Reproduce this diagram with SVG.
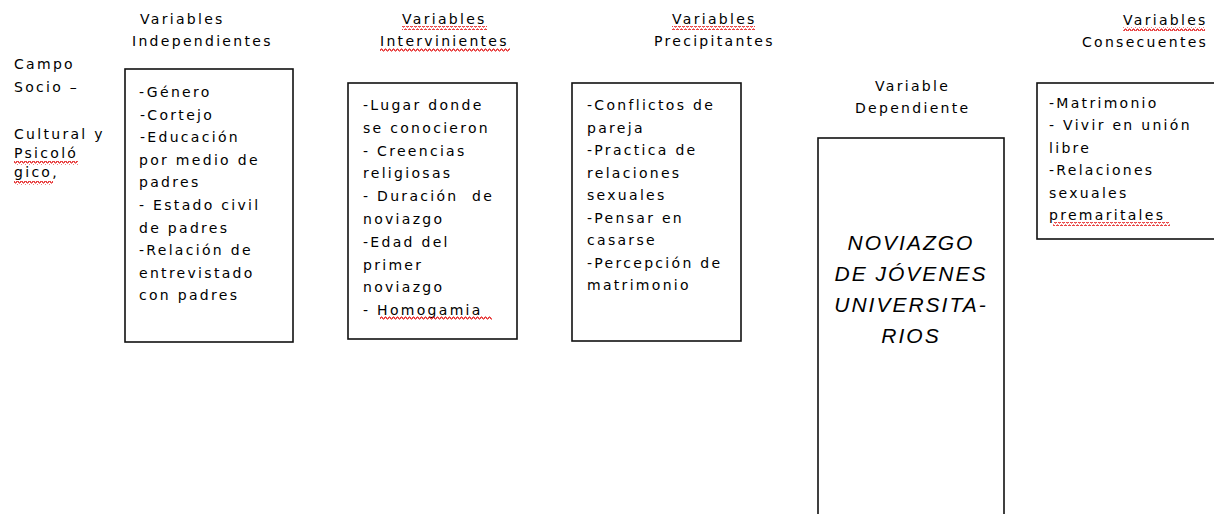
<svg xmlns="http://www.w3.org/2000/svg" width="1214" height="514" viewBox="0 0 1214 514">
<defs>
<style>
.t{font-family:"DejaVu Sans","Verdana",sans-serif;font-size:14px;letter-spacing:2.3px;fill:#000;white-space:pre}
.big{font-family:"Liberation Sans",Arial,sans-serif;font-size:21px;font-style:italic;letter-spacing:2px;fill:#000;text-anchor:middle}
.box{fill:#fff;stroke:#111;stroke-width:1.6}
</style>
<pattern id="wave" width="4" height="4" patternUnits="userSpaceOnUse">
<path d="M0 3 L1 1 L2 1 L3 3 L4 3" fill="none" stroke="#e00000" stroke-width="1"/>
</pattern>
</defs>
<rect width="1214" height="514" fill="#fff"/>

<g id="campo">
<text class="t" x="14" y="69">Campo</text>
<text class="t" x="14" y="92">Socio –</text>
<text class="t" x="14" y="139">Cultural y</text>
<text class="t" x="14" y="158">Psicoló</text>
<text class="t" x="14" y="177">gico,</text>
<rect x="14" y="161" width="64" height="4" fill="url(#wave)"/>
<rect x="14" y="181" width="39" height="4" fill="url(#wave)"/>
</g>

<g id="independientes">
<text class="t" x="140" y="24">Variables</text>
<text class="t" x="132" y="46">Independientes</text>
<rect class="box" x="125" y="69" width="168" height="273"/>
<text class="t" x="139" y="97">-Género</text>
<text class="t" x="140" y="119.6">-Cortejo</text>
<text class="t" x="140" y="142.2">-Educación</text>
<text class="t" x="139" y="164.8">por medio de</text>
<text class="t" x="139" y="187.4">padres</text>
<text class="t" x="139" y="210">- Estado civil</text>
<text class="t" x="139" y="232.6">de padres</text>
<text class="t" x="139" y="255.2">-Relación de</text>
<text class="t" x="139" y="277.8">entrevistado</text>
<text class="t" x="139" y="300.4">con padres</text>
</g>

<g id="intervinientes">
<text class="t" x="402" y="24">Variables</text>
<text class="t" x="380" y="46">Intervinientes</text>
<rect x="402" y="26" width="85" height="4" fill="url(#wave)"/>
<rect x="380" y="48" width="130" height="4" fill="url(#wave)"/>
<rect class="box" x="348" y="83" width="169" height="256"/>
<text class="t" x="363" y="110">-Lugar donde</text>
<text class="t" x="363" y="132.8">se conocieron</text>
<text class="t" x="363" y="155.6">- Creencias</text>
<text class="t" x="363" y="178.4">religiosas</text>
<text class="t" x="363" y="201.2">- Duración  de</text>
<text class="t" x="363" y="224">noviazgo</text>
<text class="t" x="363" y="246.8">-Edad del</text>
<text class="t" x="363" y="269.6">primer</text>
<text class="t" x="363" y="292.4">noviazgo</text>
<text class="t" x="363" y="315.2">- Homogamia</text>
<rect x="380" y="316" width="112" height="4" fill="url(#wave)"/>
</g>

<g id="precipitantes">
<text class="t" x="672" y="24">Variables</text>
<text class="t" x="654" y="46">Precipitantes</text>
<rect x="672" y="26" width="83" height="4" fill="url(#wave)"/>
<rect class="box" x="572" y="83" width="169" height="258"/>
<text class="t" x="587" y="110">-Conflictos de</text>
<text class="t" x="587" y="132.5">pareja</text>
<text class="t" x="587" y="155">-Practica de</text>
<text class="t" x="587" y="177.5">relaciones</text>
<text class="t" x="587" y="200">sexuales</text>
<text class="t" x="587" y="222.5">-Pensar en</text>
<text class="t" x="587" y="245">casarse</text>
<text class="t" x="587" y="267.5">-Percepción de</text>
<text class="t" x="587" y="290">matrimonio</text>
</g>

<g id="dependiente">
<text class="t" x="875" y="91">Variable</text>
<text class="t" x="855" y="113">Dependiente</text>
<rect class="box" x="818" y="138" width="186" height="400"/>
<text class="big" x="911" y="250">NOVIAZGO</text>
<text class="big" x="911" y="281">DE JÓVENES</text>
<text class="big" x="911" y="312">UNIVERSITA-</text>
<text class="big" x="911" y="343">RIOS</text>
</g>

<g id="consecuentes">
<text class="t" x="1123" y="25">Variables</text>
<text class="t" x="1082" y="47">Consecuentes</text>
<rect x="1123" y="27" width="82" height="4" fill="url(#wave)"/>
<rect class="box" x="1037" y="83" width="190" height="156"/>
<text class="t" x="1049" y="108">-Matrimonio</text>
<text class="t" x="1049" y="130.4">- Vivir en unión</text>
<text class="t" x="1049" y="152.8">libre</text>
<text class="t" x="1049" y="175.2">-Relaciones</text>
<text class="t" x="1049" y="197.6">sexuales</text>
<text class="t" x="1049" y="220">premaritales</text>
<rect x="1053" y="222" width="117" height="4" fill="url(#wave)"/>
</g>

<g id="connectors"></g>
</svg>
